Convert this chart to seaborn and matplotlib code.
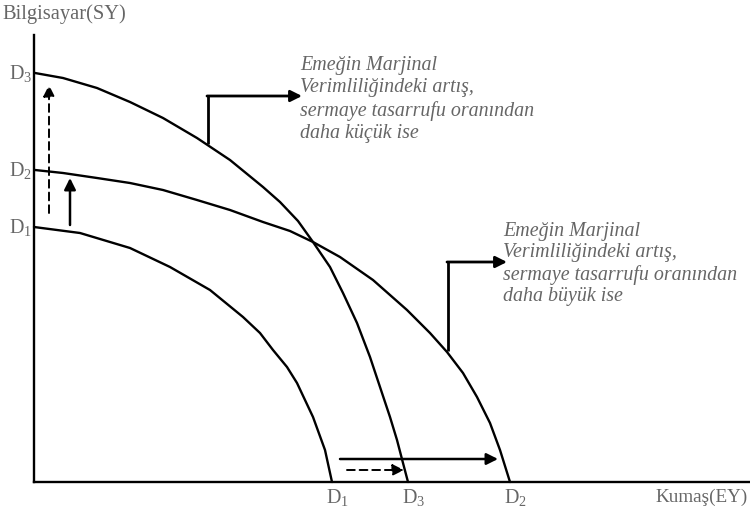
import matplotlib
matplotlib.use("Agg")
import matplotlib.pyplot as plt
import pandas as pd
import seaborn as sns

# curve points (pixel-ish units, origin at axis corner)
d1_x = [0, 46, 96, 136, 176, 209, 226, 239, 253, 263, 279, 291, 298]
d1_y = [255, 249, 234, 215, 192, 165, 149, 132, 115, 99, 65, 32, 0]

d2_x = [1, 29, 63, 96, 129, 163, 196, 229, 256, 279, 306, 339, 373, 396, 413, 429, 443, 456, 466, 476]
d2_y = [312, 309, 304, 299, 292, 282, 272, 260, 251, 240, 225, 202, 172, 149, 130, 109, 85, 59, 32, 0]

d3_x = [1, 29, 63, 96, 129, 163, 196, 229, 246, 264, 279, 296, 309, 323, 336, 346, 356, 363, 369, 374]
d3_y = [409, 404, 394, 380, 364, 344, 322, 295, 280, 261, 240, 215, 189, 159, 125, 95, 65, 42, 19, 0]

curve_names = ["D1", "D2", "D3"]

text_small = "Emeğin Marjinal\nVerimliliğindeki artış,\nsermaye tasarrufu oranından\ndaha küçük ise"
text_big = "Emeğin Marjinal\nVerimliliğindeki artış,\nsermaye tasarrufu oranından\ndaha büyük ise"

df = pd.concat([
    pd.DataFrame({"x": d1_x, "y": d1_y, "curve": "D1"}),
    pd.DataFrame({"x": d2_x, "y": d2_y, "curve": "D2"}),
    pd.DataFrame({"x": d3_x, "y": d3_y, "curve": "D3"}),
])

sns.set_theme(style="white")
plt.rcParams["font.family"] = ["Liberation Serif", "DejaVu Serif"]
plt.rcParams["mathtext.fontset"] = "custom"
plt.rcParams["mathtext.rm"] = "Liberation Serif"
plt.rcParams["mathtext.it"] = "Liberation Serif:italic"

fig = plt.figure(figsize=(7.5, 5.12), dpi=100)
ax = fig.add_axes([0, 0, 1, 1])
ax.set_xlim(-34, 716)
ax.set_ylim(-30, 482)

sns.lineplot(data=df, x="x", y="y", units="curve", estimator=None,
             color="black", lw=1.7, ax=ax, legend=False)

# axes as spines through origin
for s in ["top", "right"]:
    ax.spines[s].set_visible(False)
ax.spines["left"].set_position(("data", 0))
ax.spines["bottom"].set_position(("data", 0))
ax.spines["left"].set_bounds(0, 447)
ax.spines["bottom"].set_bounds(0, 716)
for s in ["left", "bottom"]:
    ax.spines[s].set_color("black")
    ax.spines[s].set_linewidth(1.7)
ax.set_xticks([])
ax.set_yticks([])
ax.set_xlabel("")
ax.set_ylabel("")

grey = "#666666"
ax.text(-32, 468, "Bilgisayar(SY)", color=grey, fontsize=14.8, va="center", ha="left")
ax.text(621, -15, "Kumaş(EY)", color=grey, fontsize=13.8, va="center", ha="left")

# intercept labels
y_ends = {"D1": d1_y[0], "D2": d2_y[0], "D3": d3_y[0]}
x_ends = {"D1": d1_x[-1], "D2": d2_x[-1], "D3": d3_x[-1]}
for name in curve_names:
    lab = r"$\mathrm{D}_%s$" % name[1]
    ax.text(-2, y_ends[name] - 6, lab, color=grey, fontsize=14.5, ha="right", va="baseline")
    ax.text(x_ends[name] - 6, -21, lab, color=grey, fontsize=14.5, ha="left", va="baseline")

# shift arrows
solid = dict(arrowstyle="-|>", color="black", lw=1.8, mutation_scale=17, shrinkA=0, shrinkB=0)
dashed = dict(arrowstyle="-|>", color="black", lw=1.4, ls=(0, (4, 2.5)), mutation_scale=17, shrinkA=0, shrinkB=0)
ax.annotate("", xy=(15, 397), xytext=(15, 269), arrowprops=dashed)
ax.annotate("", xy=(36, 304), xytext=(36, 257), arrowprops=solid)
ax.annotate("", xy=(464, 23), xytext=(306, 23), arrowprops=solid)
ax.annotate("", xy=(370, 12), xytext=(313, 12), arrowprops=dashed)

# callouts
elbow = dict(arrowstyle="-|>", color="black", lw=2.0, mutation_scale=17, shrinkA=0, shrinkB=0)
ax.plot([174, 174], [338, 386], color="black", lw=2.0, solid_capstyle="butt")
ax.annotate("", xy=(268, 386), xytext=(173, 386), arrowprops=elbow)
ax.plot([414, 414], [131, 220], color="black", lw=2.0, solid_capstyle="butt")
ax.annotate("", xy=(473, 220), xytext=(413, 220), arrowprops=elbow)

ax.text(266, 426, text_small, color=grey, fontsize=14.4, style="italic",
        va="top", ha="left", linespacing=1.24)
ax.text(469, 260, text_big, color=grey, fontsize=14.4, style="italic",
        va="top", ha="left", linespacing=1.16)

fig.savefig("out.png", dpi=100)
